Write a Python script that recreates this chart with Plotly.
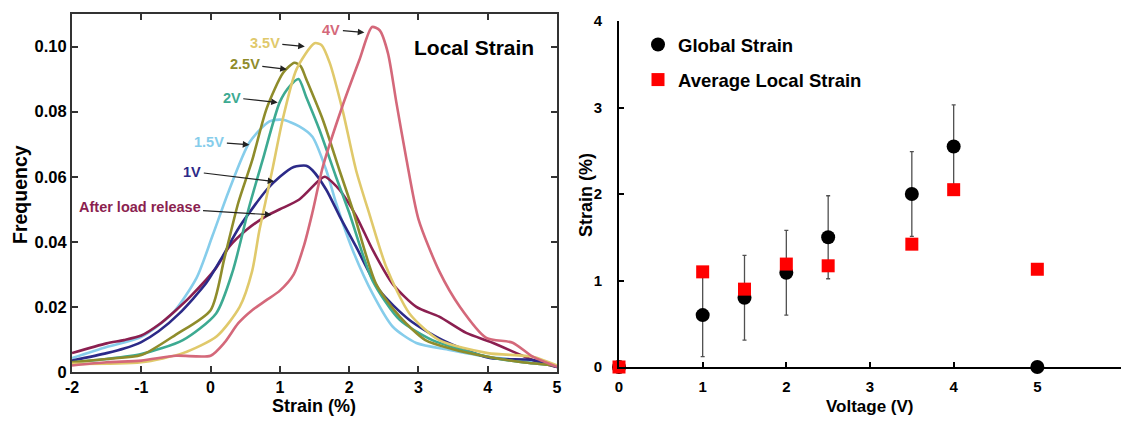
import plotly.graph_objects as go

# ---------------- Left panel: local strain distributions ----------------
x_4v = [-2, -1.5, -1, -0.5, 0, 0.2, 0.4, 0.6, 0.8, 1.0, 1.2, 1.35, 1.47, 1.62, 1.9, 2.15, 2.33, 2.44, 2.56, 2.68, 2.83, 3.0, 3.3, 3.6, 3.98, 4.36, 4.65, 5.0]
y_4v = [0.002, 0.003, 0.0035, 0.005, 0.005, 0.009, 0.015, 0.019, 0.022, 0.025, 0.030, 0.039, 0.049, 0.063, 0.0815, 0.096, 0.106, 0.105, 0.098, 0.083, 0.065, 0.047, 0.031, 0.020, 0.0105, 0.009, 0.0047, 0.0016]

x_35v = [-2, -1, -0.4, 0.09, 0.42, 0.6, 0.7, 0.8, 0.9, 1.04, 1.24, 1.5, 1.6, 1.72, 1.91, 2.1, 2.3, 2.54, 2.87, 3.3, 4.0, 4.65, 5.0]
y_35v = [0.0025, 0.003, 0.0058, 0.011, 0.020, 0.031, 0.043, 0.053, 0.063, 0.0775, 0.093, 0.101, 0.1005, 0.095, 0.080, 0.062, 0.048, 0.032, 0.018, 0.0098, 0.0058, 0.0047, 0.002]

x_25v = [-2, -1.5, -1, -0.5, 0, 0.2, 0.4, 0.6, 0.81, 1.05, 1.21, 1.3, 1.38, 1.62, 1.86, 2.05, 2.39, 2.73, 3.1, 3.5, 4.0, 4.5, 5.0]
y_25v = [0.003, 0.004, 0.0052, 0.0115, 0.019, 0.035, 0.052, 0.065, 0.081, 0.092, 0.095, 0.094, 0.090, 0.0775, 0.062, 0.05, 0.027, 0.017, 0.0098, 0.007, 0.0047, 0.003, 0.002]

x_2v = [-2, -1.5, -1, -0.4, 0.08, 0.32, 0.56, 0.75, 1.0, 1.15, 1.27, 1.38, 1.57, 1.81, 2.0, 2.34, 2.73, 3.2, 3.6, 4.0, 4.5, 5.0]
y_2v = [0.003, 0.004, 0.0055, 0.0098, 0.018, 0.031, 0.051, 0.065, 0.083, 0.088, 0.090, 0.0845, 0.0745, 0.060, 0.049, 0.028, 0.016, 0.0098, 0.007, 0.0047, 0.003, 0.002]

x_15v = [-2, -1.5, -1, -0.55, -0.2, 0.03, 0.27, 0.56, 0.85, 1.04, 1.28, 1.47, 1.67, 1.81, 2.05, 2.34, 2.63, 2.97, 3.45, 4.0, 4.5, 5.0]
y_15v = [0.0043, 0.0077, 0.0108, 0.018, 0.029, 0.042, 0.056, 0.0705, 0.077, 0.0775, 0.0755, 0.0723, 0.062, 0.052, 0.0375, 0.024, 0.0139, 0.0089, 0.0068, 0.0047, 0.0035, 0.002]

x_1v = [-2, -1.5, -1.25, -1, -0.75, -0.45, -0.06, 0.17, 0.42, 0.81, 1.0, 1.2, 1.38, 1.47, 1.67, 1.86, 2.1, 2.44, 2.87, 3.35, 4.03, 4.65, 5.0]
y_1v = [0.0035, 0.0058, 0.0072, 0.0092, 0.0125, 0.018, 0.0274, 0.0354, 0.0447, 0.056, 0.060, 0.063, 0.0634, 0.062, 0.056, 0.048, 0.0385, 0.025, 0.016, 0.0098, 0.0043, 0.0037, 0.0015]

x_rel = [-2, -1.5, -1.25, -1, -0.75, -0.5, -0.3, 0.08, 0.27, 0.52, 0.81, 1.0, 1.28, 1.57, 1.65, 1.86, 2.1, 2.34, 2.63, 2.97, 3.3, 3.69, 4.07, 4.65, 5.0]
y_rel = [0.0058, 0.0088, 0.0098, 0.0112, 0.0145, 0.019, 0.023, 0.032, 0.0385, 0.0437, 0.048, 0.050, 0.053, 0.059, 0.060, 0.056, 0.048, 0.0375, 0.027, 0.020, 0.017, 0.012, 0.009, 0.0037, 0.0015]

curve_names = ["1.5V", "After load release", "1V", "2V", "2.5V", "3.5V", "4V"]
curve_x = [x_15v, x_rel, x_1v, x_2v, x_25v, x_35v, x_4v]
curve_y = [y_15v, y_rel, y_1v, y_2v, y_25v, y_35v, y_4v]
curve_colors = ["#86CDEB", "#8B1F50", "#2C2A88", "#3DAA92", "#8F8C2B", "#E0C96B", "#D4687A"]

# label arrow tips (data coords) and text offsets (px)
label_tip_x = [0.56, 0.88, 0.92, 0.97, 1.10, 1.36, 2.22]
label_tip_y = [0.0698, 0.0483, 0.0585, 0.0828, 0.093, 0.100, 0.1043]
label_ax = [-40, -132, -82, -46, -42, -40, -33]
label_ay = [-3, -8, -10, -5, -5, -4, -3]

x_ticks_left = [-2, -1, 0, 1, 2, 3, 4, 5]
x_ticktext_left = ["-2", "-1", "0", "1", "2", "3", "4", "5"]
y_ticks_left = [0, 0.02, 0.04, 0.06, 0.08, 0.10]
y_ticktext_left = ["0", "0.02", "0.04", "0.06", "0.08", "0.10"]

# ---------------- Right panel: strain vs voltage ----------------
voltage_global = [0, 1, 1.5, 2, 2.5, 3.5, 4, 5]
global_strain = [0, 0.60, 0.80, 1.09, 1.50, 2.00, 2.55, 0]
global_err = [0, 0.48, 0.49, 0.49, 0.48, 0.49, 0.48, 0]

voltage_local = [0, 1, 1.5, 2, 2.5, 3.5, 4, 5]
local_strain = [0, 1.10, 0.90, 1.19, 1.17, 1.42, 2.05, 1.13]

FONT = "Arial, Liberation Sans, Helvetica, sans-serif"

# page has an 8px body margin: figure is drawn at (8, 8) in the window
W, H, OFF = 1113, 408, 8


def fx(px):
    return min(1.0, max(0.0, (px - OFF) / W))


def fy(py):
    return min(1.0, max(0.0, (OFF + H - py) / H))


fig = go.Figure()

for nm, xs, ys, col in zip(curve_names, curve_x, curve_y, curve_colors):
    fig.add_trace(go.Scatter(x=xs, y=ys, mode="lines", name=nm, showlegend=False,
                             line=dict(color=col, width=2.6, shape="spline", smoothing=0.7),
                             xaxis="x", yaxis="y", hoverinfo="skip"))

fig.add_trace(go.Scatter(
    x=voltage_global, y=global_strain, mode="markers", name="Global Strain",
    marker=dict(symbol="circle", size=14, color="black"),
    error_y=dict(type="data", array=global_err, visible=True, color="#505050", thickness=1.3, width=2),
    xaxis="x2", yaxis="y2", cliponaxis=False, legendgroup="g1"))

fig.add_trace(go.Scatter(
    x=voltage_local, y=local_strain, mode="markers", name="Average Local Strain",
    marker=dict(symbol="square", size=13, color="#FF0000"),
    xaxis="x2", yaxis="y2", cliponaxis=False, legendgroup="g2"))

annotations = []
for nm, tx, ty, ax, ay, col in zip(curve_names, label_tip_x, label_tip_y, label_ax, label_ay, curve_colors):
    annotations.append(dict(
        x=tx, y=ty, xref="x", yref="y", text="<b>%s</b>" % nm, showarrow=True,
        ax=ax, ay=ay, arrowhead=2, arrowsize=1.1, arrowwidth=1.2, arrowcolor="#222222",
        font=dict(family=FONT, size=14.5, color=col), standoff=0, startstandoff=1))


def paper_text(txt, px, py, size, angle=0):
    return dict(text="<b>%s</b>" % txt, x=fx(px), y=fy(py), xref="paper", yref="paper",
                xanchor="center", yanchor="middle", showarrow=False, textangle=angle,
                font=dict(family=FONT, size=size, color="black"))


annotations += [
    paper_text("Local Strain", 474, 47, 21),
    paper_text("Frequency", 20, 195, 19.5, -90),
    paper_text("Strain (%)", 314, 406, 18),
    paper_text("Strain (%)", 586, 195, 18, -90),
    paper_text("Voltage (V)", 870, 406, 17),
]

tickfont_l = dict(family=FONT, size=16.5, color="black", weight="bold")
tickfont_lx = dict(family=FONT, size=16, color="black", weight="bold")
tickfont_r = dict(family=FONT, size=15, color="black", weight="bold")

fig.update_layout(
    width=W, height=H, margin=dict(l=0, r=0, t=0, b=0, autoexpand=False),
    paper_bgcolor="white", plot_bgcolor="white",
    font=dict(family=FONT),
    xaxis=dict(domain=[fx(72), fx(557)], range=[-2, 5], tickvals=x_ticks_left, ticktext=x_ticktext_left,
               ticks="inside", ticklen=6, tickwidth=1.5, tickcolor="#333", showline=True, linecolor="#333",
               linewidth=2, mirror="ticks", showgrid=False, zeroline=False, tickfont=tickfont_lx,
               anchor="y", automargin=False),
    yaxis=dict(domain=[fy(372), fy(14)], range=[0, 0.11],
               tickvals=y_ticks_left, ticktext=y_ticktext_left,
               ticks="inside", ticklen=6, tickwidth=1.5, tickcolor="#333", showline=True, linecolor="#333",
               linewidth=2, mirror="ticks", showgrid=False, zeroline=False, tickfont=tickfont_l,
               anchor="x", automargin=False),
    xaxis2=dict(domain=[fx(619), fx(1123)], range=[0, 6], tickvals=[0, 1, 2, 3, 4, 5, 6],
                ticks="inside", ticklen=5, tickwidth=1.5, tickcolor="black", showline=True, linecolor="black",
                linewidth=2, showgrid=False, zeroline=False, tickfont=tickfont_r, anchor="y2",
                ticklabelstandoff=5, automargin=False),
    yaxis2=dict(domain=[fy(367), fy(21)], range=[0, 4], tickvals=[0, 1, 2, 3, 4],
                ticks="inside", ticklen=5, tickwidth=1.5, tickcolor="black", showline=True, linecolor="black",
                linewidth=2, showgrid=False, zeroline=False, tickfont=tickfont_r, anchor="x2",
                ticklabelstandoff=12, automargin=False),
    legend=dict(x=fx(638), y=fy(26), xanchor="left", yanchor="top", bgcolor="rgba(0,0,0,0)",
                font=dict(family=FONT, size=18.5, color="black", weight="bold"),
                traceorder="grouped", tracegroupgap=8),
    annotations=annotations,
)

fig.write_html("out.html")
